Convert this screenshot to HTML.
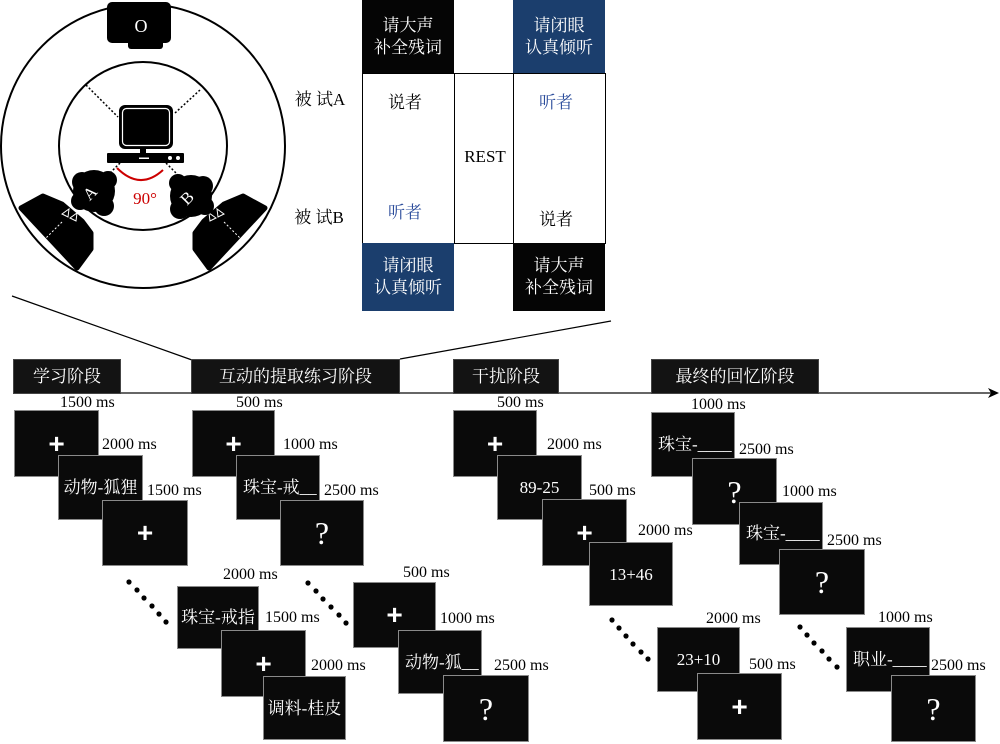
<!DOCTYPE html>
<html><head><meta charset="utf-8">
<style>
html,body{margin:0;padding:0;background:#fff;}
body{width:1000px;height:744px;position:relative;overflow:hidden;font-family:"Liberation Serif","Noto Serif CJK SC",serif;}
.a{position:absolute;}
.s{position:absolute;box-sizing:border-box;background:#0a0a0a;border:1px solid #8a8a8a;color:#fff;display:flex;align-items:center;justify-content:center;font-size:17px;line-height:1;white-space:nowrap;overflow:visible;}
.s.l{justify-content:flex-start;padding-left:6px;}
.p{font-family:"Liberation Sans",sans-serif;font-size:28px;font-weight:bold;}
.q{font-size:32px;}
.ms{position:absolute;font-size:16px;line-height:20px;height:20px;color:#000;white-space:nowrap;}
.ph{position:absolute;box-sizing:border-box;background:#131313;border:1px solid #444;color:#fff;font-size:17px;display:flex;align-items:center;justify-content:center;top:359px;height:35px;line-height:1;}
.tb{position:absolute;display:flex;flex-direction:column;align-items:center;justify-content:center;color:#fff;font-size:17px;line-height:22px;}
.t{position:absolute;font-size:17px;line-height:20px;white-space:nowrap;transform:translate(-50%,-50%);}
</style></head><body>
<svg class="a" style="left:0;top:0" width="1000" height="744" viewBox="0 0 1000 744">
<circle cx="143" cy="146" r="142" fill="none" stroke="#000" stroke-width="2"/>
<circle cx="143" cy="146" r="84" fill="none" stroke="#000" stroke-width="2"/>
<rect x="107" y="2" width="64" height="41" rx="5" fill="#000"/>
<rect x="128" y="38" width="35" height="11" rx="3" fill="#000"/>
<text x="141" y="32" fill="#fff" font-size="18" text-anchor="middle" font-family="Liberation Serif">O</text>
<g stroke="#000" stroke-width="1.5" stroke-dasharray="2 2">
<line x1="86" y1="85" x2="118" y2="117"/>
<line x1="200" y1="90" x2="175" y2="113"/>
<line x1="120" y1="163" x2="104" y2="179"/>
<line x1="166" y1="163" x2="182" y2="179"/>
</g>
<rect x="119" y="105" width="54" height="44" rx="6" fill="#000"/>
<rect x="122.5" y="108.5" width="47" height="37" rx="4" fill="none" stroke="#fff" stroke-width="1.2"/>
<rect x="140" y="148" width="6" height="6" fill="#000"/>
<rect x="107" y="153" width="77" height="10" rx="1" fill="#000"/>
<rect x="139" y="157.5" width="10" height="1.5" fill="#fff"/>
<circle cx="170" cy="158" r="2" fill="#fff"/><circle cx="178" cy="158" r="2" fill="#fff"/>
<path d="M117 168 Q140 191 163 170" stroke="#c00" fill="none" stroke-width="2"/>
<text x="145" y="204" text-anchor="middle" fill="#c00" font-size="17" font-family="Liberation Serif">90°</text>
<polygon points="21,208 43,196 62,204 82,221 91,233 91,249 77,268" fill="#000" stroke="#000" stroke-width="5" stroke-linejoin="round"/>
<polygon points="265,208 243,196 224,204 204,221 195,233 195,249 209,268" fill="#000" stroke="#000" stroke-width="5" stroke-linejoin="round"/>
<g stroke="#fff" stroke-width="1" fill="none">
<path d="M62,214 L69,209 L68,217 Z"/><path d="M70,218 L77,213 L76,221 Z"/>
<path d="M224,214 L217,209 L218,217 Z"/><path d="M216,218 L209,213 L210,221 Z"/>
<line x1="62" y1="222" x2="44" y2="240" stroke-dasharray="2 2"/>
<line x1="224" y1="222" x2="242" y2="240" stroke-dasharray="2 2"/>
</g>
<ellipse cx="94" cy="191" rx="21" ry="21" fill="#000"/>
<circle cx="82" cy="182" r="10" fill="#000"/><circle cx="104" cy="206" r="10" fill="#000"/><circle cx="108" cy="180" r="9" fill="#000"/><circle cx="80" cy="201" r="9" fill="#000"/>
<ellipse cx="191" cy="196" rx="21" ry="21" fill="#000"/>
<circle cx="203" cy="186" r="10" fill="#000"/><circle cx="180" cy="209" r="10" fill="#000"/><circle cx="178" cy="183" r="9" fill="#000"/><circle cx="205" cy="206" r="9" fill="#000"/>
<text transform="translate(94,197) rotate(-45)" fill="#fff" font-size="17" text-anchor="middle" font-family="Liberation Serif">A</text>
<text transform="translate(191,202) rotate(-45)" fill="#fff" font-size="17" text-anchor="middle" font-family="Liberation Serif">B</text>
<line x1="12" y1="296" x2="192" y2="360" stroke="#000" stroke-width="1.2"/>
<line x1="400" y1="359" x2="611" y2="321" stroke="#000" stroke-width="1.2"/>
<line x1="13" y1="393" x2="992" y2="393" stroke="#333" stroke-width="1.5"/>
<polygon points="988,388 999,393 988,398 991,393" fill="#000"/>
<rect x="362.5" y="73.5" width="243" height="170" fill="none" stroke="#000" stroke-width="1"/>
<line x1="454.5" y1="73" x2="454.5" y2="243" stroke="#000" stroke-width="1"/>
<line x1="513.5" y1="73" x2="513.5" y2="243" stroke="#000" stroke-width="1"/>
<g fill="#000">
<circle cx="129" cy="582" r="2.6"/><circle cx="137" cy="590" r="2.6"/><circle cx="144" cy="598" r="2.6"/><circle cx="152" cy="606" r="2.6"/><circle cx="159" cy="614" r="2.6"/><circle cx="166" cy="622" r="2.6"/>
<circle cx="308" cy="583" r="2.6"/><circle cx="316" cy="591" r="2.6"/><circle cx="323" cy="599" r="2.6"/><circle cx="331" cy="607" r="2.6"/><circle cx="339" cy="615" r="2.6"/><circle cx="346" cy="623" r="2.6"/>
<circle cx="612" cy="620" r="2.6"/><circle cx="619" cy="628" r="2.6"/><circle cx="626" cy="636" r="2.6"/><circle cx="633" cy="644" r="2.6"/><circle cx="641" cy="652" r="2.6"/><circle cx="648" cy="659" r="2.6"/>
<circle cx="800" cy="627" r="2.6"/><circle cx="807" cy="635" r="2.6"/><circle cx="814" cy="643" r="2.6"/><circle cx="822" cy="651" r="2.6"/><circle cx="829" cy="659" r="2.6"/><circle cx="837" cy="667" r="2.6"/>
</g>
</svg>

<!-- table -->
<div class="tb" style="left:362px;top:0;width:92px;height:73px;background:#050505;"><div>请大声</div><div>补全残词</div></div>
<div class="tb" style="left:513px;top:0;width:92px;height:73px;background:#1b3e6d;"><div>请闭眼</div><div>认真倾听</div></div>
<div class="tb" style="left:362px;top:243px;width:92px;height:68px;background:#1b3e6d;"><div>请闭眼</div><div>认真倾听</div></div>
<div class="tb" style="left:513px;top:243px;width:92px;height:68px;background:#050505;"><div>请大声</div><div>补全残词</div></div>
<div class="t" style="left:320px;top:100px;">被 试A</div>
<div class="t" style="left:319px;top:218px;">被 试B</div>
<div class="t" style="left:405px;top:103px;">说者</div>
<div class="t" style="left:556px;top:103px;color:#2b4c9b;">听者</div>
<div class="t" style="left:485px;top:157px;">REST</div>
<div class="t" style="left:405px;top:213px;color:#2b4c9b;">听者</div>
<div class="t" style="left:556px;top:220px;">说者</div>

<!-- phases -->
<div class="ph" style="left:13px;width:108px;">学习阶段</div>
<div class="ph" style="left:191px;width:209px;">互动的提取练习阶段</div>
<div class="ph" style="left:453px;width:106px;">干扰阶段</div>
<div class="ph" style="left:651px;width:168px;">最终的回忆阶段</div>

<!-- group 1 -->
<div class="s p" style="left:14px;top:410px;width:85px;height:67px;">+</div>
<div class="s" style="left:58px;top:455px;width:85px;height:65px;">动物-狐狸</div>
<div class="s p" style="left:102px;top:500px;width:86px;height:66px;">+</div>
<div class="s" style="left:177px;top:586px;width:82px;height:63px;">珠宝-戒指</div>
<div class="s p" style="left:221px;top:630px;width:85px;height:67px;">+</div>
<div class="s" style="left:263px;top:676px;width:83px;height:64px;">调料-桂皮</div>
<!-- group 2 -->
<div class="s p" style="left:192px;top:410px;width:83px;height:67px;">+</div>
<div class="s l" style="left:236px;top:455px;width:84px;height:65px;">珠宝-戒__</div>
<div class="s q" style="left:280px;top:500px;width:84px;height:66px;">?</div>
<div class="s p" style="left:353px;top:582px;width:83px;height:66px;">+</div>
<div class="s l" style="left:398px;top:630px;width:84px;height:64px;">动物-狐__</div>
<div class="s q" style="left:443px;top:675px;width:86px;height:67px;">?</div>
<!-- group 3 -->
<div class="s p" style="left:453px;top:410px;width:84px;height:67px;">+</div>
<div class="s" style="left:497px;top:455px;width:85px;height:65px;">89-25</div>
<div class="s p" style="left:542px;top:499px;width:85px;height:67px;">+</div>
<div class="s" style="left:589px;top:542px;width:84px;height:64px;">13+46</div>
<div class="s" style="left:657px;top:627px;width:83px;height:65px;">23+10</div>
<div class="s p" style="left:697px;top:673px;width:85px;height:67px;">+</div>
<!-- group 4 -->
<div class="s l" style="left:651px;top:412px;width:84px;height:65px;">珠宝-____</div>
<div class="s q" style="left:692px;top:458px;width:85px;height:67px;">?</div>
<div class="s l" style="left:739px;top:502px;width:84px;height:63px;">珠宝-____</div>
<div class="s q" style="left:779px;top:549px;width:86px;height:66px;">?</div>
<div class="s l" style="left:846px;top:627px;width:84px;height:65px;">职业-____</div>
<div class="s q" style="left:891px;top:675px;width:85px;height:67px;">?</div>

<!-- ms labels -->
<div class="ms" style="left:60px;top:393px;">1500 ms</div>
<div class="ms" style="left:102px;top:435px;">2000 ms</div>
<div class="ms" style="left:147px;top:481px;">1500 ms</div>
<div class="ms" style="left:223px;top:565px;">2000 ms</div>
<div class="ms" style="left:265px;top:608px;">1500 ms</div>
<div class="ms" style="left:311px;top:656px;">2000 ms</div>

<div class="ms" style="left:236px;top:393px;">500 ms</div>
<div class="ms" style="left:283px;top:435px;">1000 ms</div>
<div class="ms" style="left:324px;top:481px;">2500 ms</div>
<div class="ms" style="left:403px;top:563px;">500 ms</div>
<div class="ms" style="left:440px;top:609px;">1000 ms</div>
<div class="ms" style="left:494px;top:656px;">2500 ms</div>

<div class="ms" style="left:497px;top:393px;">500 ms</div>
<div class="ms" style="left:547px;top:435px;">2000 ms</div>
<div class="ms" style="left:589px;top:481px;">500 ms</div>
<div class="ms" style="left:638px;top:521px;">2000 ms</div>
<div class="ms" style="left:706px;top:609px;">2000 ms</div>
<div class="ms" style="left:749px;top:655px;">500 ms</div>

<div class="ms" style="left:691px;top:395px;">1000 ms</div>
<div class="ms" style="left:739px;top:440px;">2500 ms</div>
<div class="ms" style="left:782px;top:482px;">1000 ms</div>
<div class="ms" style="left:827px;top:531px;">2500 ms</div>
<div class="ms" style="left:878px;top:608px;">1000 ms</div>
<div class="ms" style="left:931px;top:656px;">2500 ms</div>
</body></html>
